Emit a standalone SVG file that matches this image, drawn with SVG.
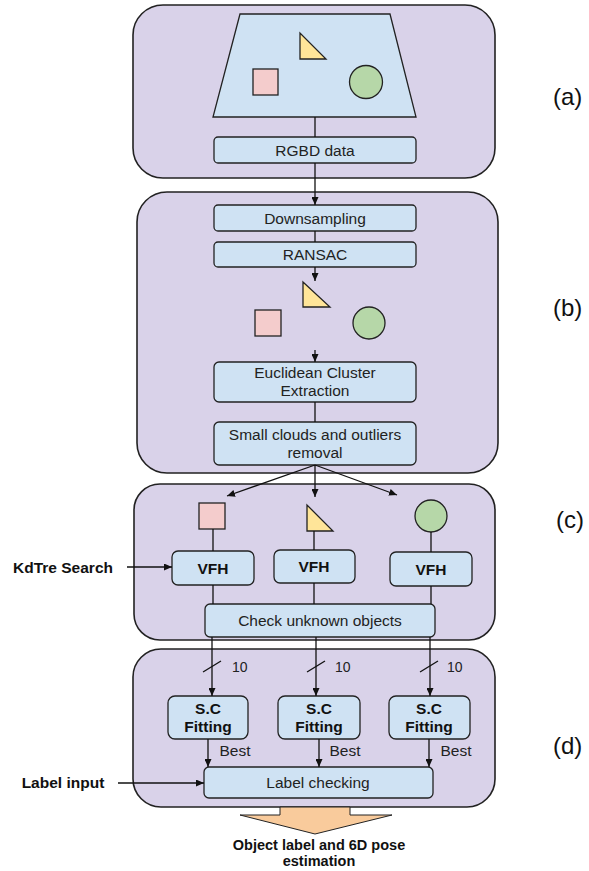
<svg xmlns="http://www.w3.org/2000/svg" width="589" height="871" viewBox="0 0 589 871">
<defs>
<style>
.panel{fill:#d9d2e9;stroke:#222;stroke-width:1.6}
.box{fill:#cfe2f3;stroke:#222;stroke-width:1.3}
.sq{fill:#f4cccc;stroke:#222;stroke-width:1.3}
.tri{fill:#ffe599;stroke:#222;stroke-width:1.3;stroke-linejoin:miter}
.cir{fill:#b6d7a8;stroke:#222;stroke-width:1.3}
.t{font-family:"Liberation Sans",Arial,sans-serif;font-size:15.5px;fill:#222;text-anchor:middle}
.b{font-weight:bold;fill:#111}
.o{font-family:"Liberation Sans",Arial,sans-serif;font-size:14.5px;font-weight:bold;fill:#111;text-anchor:middle}
.s{font-family:"Liberation Sans",Arial,sans-serif;font-size:14px;fill:#222}
.lab{font-family:"Liberation Sans",Arial,sans-serif;font-size:24px;fill:#111}
.ln{stroke:#111;stroke-width:1.3;fill:none}
.ar{stroke:#111;stroke-width:1.3;fill:none;marker-end:url(#ah)}
</style>
<marker id="ah" viewBox="0 0 10 10" refX="10" refY="5" markerWidth="8" markerHeight="7" markerUnits="userSpaceOnUse" orient="auto" preserveAspectRatio="none">
<path d="M0,0 L10,5 L0,10 z" fill="#111"/>
</marker>
</defs>

<g id="panel-a">
<rect class="panel" x="133" y="5" width="362" height="173" rx="30"/>
<polygon points="240,14 390,14 416,117 213,117" fill="#cfe2f3" stroke="#222" stroke-width="1.3"/>
<polygon class="tri" points="300,33 300,59 326,59"/>
<rect class="sq" x="253" y="69" width="25" height="26"/>
<circle class="cir" cx="366" cy="82" r="16.5"/>
</g>
<g id="panel-b"><rect class="panel" x="137" y="192" width="361" height="281" rx="30"/></g>
<g id="panel-c"><rect class="panel" x="134" y="484" width="361" height="156" rx="26"/></g>
<g id="panel-d"><rect class="panel" x="133" y="649" width="362" height="158" rx="28"/></g>

<g id="rgbd"><rect class="box" x="214" y="137" width="202" height="26" rx="4"/><text class="t" x="315" y="155.5">RGBD data</text></g>
<g id="downsampling"><rect class="box" x="214" y="205" width="202" height="26" rx="4"/><text class="t" x="315" y="223.5">Downsampling</text></g>
<g id="ransac"><rect class="box" x="214" y="242" width="202" height="25" rx="4"/><text class="t" x="315" y="260">RANSAC</text></g>
<g id="segmented-objects">
<polygon class="tri" points="303,282 303,307 330,307"/>
<rect class="sq" x="255" y="310" width="26" height="26"/>
<circle class="cir" cx="369" cy="323" r="16"/>
</g>
<g id="euclidean"><rect class="box" x="214" y="362" width="202" height="40" rx="5"/><text class="t" x="315" y="378">Euclidean Cluster</text><text class="t" x="315" y="396">Extraction</text></g>
<g id="small-clouds"><rect class="box" x="214" y="422" width="202" height="43" rx="5"/><text class="t" x="315" y="440">Small clouds and outliers</text><text class="t" x="315" y="458">removal</text></g>

<g id="obj-square"><rect class="sq" x="199" y="503" width="26" height="26"/></g>
<g id="obj-triangle"><polygon class="tri" points="307,505 307,531 333,531"/></g>
<g id="obj-circle"><circle class="cir" cx="431" cy="516" r="16"/></g>
<g id="vfh1"><rect class="box" x="172" y="551" width="82" height="34" rx="6"/><text class="t b" x="213" y="574">VFH</text></g>
<g id="vfh2"><rect class="box" x="274" y="550" width="81" height="33" rx="6"/><text class="t b" x="314" y="572">VFH</text></g>
<g id="vfh3"><rect class="box" x="390" y="552" width="82" height="34" rx="6"/><text class="t b" x="431" y="575">VFH</text></g>
<g id="check-unknown"><rect class="box" x="205" y="604" width="230" height="33" rx="5"/><text class="t" x="320" y="626">Check unknown objects</text></g>
<g id="kdtree"><text class="t b" x="63" y="573">KdTre Search</text></g>

<g id="sc1"><rect class="box" x="168" y="696" width="80" height="43" rx="7"/><text class="t b" x="208" y="714">S.C</text><text class="t b" x="208" y="732">Fitting</text></g>
<g id="sc2"><rect class="box" x="278" y="696" width="82" height="43" rx="7"/><text class="t b" x="319" y="714">S.C</text><text class="t b" x="319" y="732">Fitting</text></g>
<g id="sc3"><rect class="box" x="389" y="696" width="81" height="43" rx="7"/><text class="t b" x="429" y="714">S.C</text><text class="t b" x="429" y="732">Fitting</text></g>
<g id="label-checking"><rect class="box" x="204" y="767" width="229" height="31" rx="5"/><text class="t" x="318" y="788">Label checking</text></g>
<g id="label-input"><text class="t b" x="63" y="788">Label input</text></g>

<g id="output">
<polygon points="280,807 350,807 350,815 392,815 315,834 240,815 280,815" fill="#f9cb9c" stroke="#222" stroke-width="1"/>
<text class="o" x="319" y="850">Object label and 6D pose</text>
<text class="o" x="319" y="866">estimation</text>
</g>

<g id="stage-labels">
<text class="lab" x="553" y="105">(a)</text>
<text class="lab" x="553" y="316">(b)</text>
<text class="lab" x="556" y="528">(c)</text>
<text class="lab" x="553" y="754">(d)</text>
</g>

<g id="connectors">
<line class="ln" x1="315" y1="117" x2="315" y2="137"/>
<line class="ar" x1="315" y1="163" x2="315" y2="205"/>
<line class="ln" x1="315" y1="231" x2="315" y2="242"/>
<line class="ar" x1="315" y1="267" x2="315" y2="281"/>
<line class="ar" x1="315" y1="350" x2="315" y2="362"/>
<line class="ln" x1="315" y1="402" x2="315" y2="422"/>
<line class="ar" x1="315" y1="465" x2="227" y2="496"/>
<line class="ar" x1="315" y1="465" x2="315" y2="497"/>
<line class="ar" x1="315" y1="465" x2="397" y2="495"/>
<line class="ln" x1="213" y1="529" x2="213" y2="551"/>
<line class="ln" x1="314" y1="531" x2="314" y2="550"/>
<line class="ln" x1="431" y1="532" x2="431" y2="552"/>
<line class="ln" x1="213" y1="585" x2="213" y2="604"/>
<line class="ln" x1="314" y1="583" x2="314" y2="604"/>
<line class="ln" x1="431" y1="586" x2="431" y2="604"/>
<line class="ar" x1="127" y1="567" x2="172" y2="567"/>
<line class="ar" x1="212" y1="637" x2="212" y2="696"/>
<line class="ar" x1="316" y1="637" x2="316" y2="696"/>
<line class="ar" x1="430" y1="637" x2="430" y2="696"/>
<line class="ln" x1="203" y1="672" x2="221" y2="661"/>
<line class="ln" x1="307" y1="672" x2="325" y2="661"/>
<line class="ln" x1="420" y1="672" x2="438" y2="661"/>
<text class="s" x="232" y="672">10</text>
<text class="s" x="335" y="672">10</text>
<text class="s" x="447" y="672">10</text>
<line class="ar" x1="208" y1="739" x2="208" y2="767"/>
<line class="ar" x1="319" y1="739" x2="319" y2="767"/>
<line class="ar" x1="429" y1="739" x2="429" y2="767"/>
<text class="t" x="235" y="756">Best</text>
<text class="t" x="345" y="756">Best</text>
<text class="t" x="456" y="756">Best</text>
<line class="ar" x1="118" y1="783" x2="204" y2="783"/>
</g>
</svg>
